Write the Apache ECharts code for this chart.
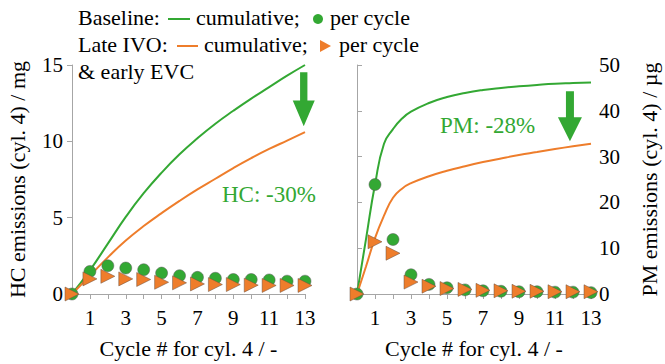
<!DOCTYPE html>
<html>
<head>
<meta charset="utf-8">
<script src="https://cdn.jsdelivr.net/npm/echarts@6/dist/echarts.min.js"></script>
<style>
html,body{margin:0;padding:0;background:#fff;}
#chart{width:665px;height:364px;}
</style>
</head>
<body>
<div id="chart"></div>
<script>
// ---- data ----
const cycles = [0,1,2,3,4,5,6,7,8,9,10,11,12,13];
const xTickLabels = ['1','3','5','7','9','11','13'];
const hcBaseCum   = [0, 1.55, 3.3, 5.05, 6.6, 7.95, 9.15, 10.2, 11.15, 12.0, 12.8, 13.55, 14.3, 15.0];
const hcLateCum   = [0, 1.2, 2.4, 3.5, 4.45, 5.3, 6.1, 6.85, 7.55, 8.25, 8.9, 9.5, 10.05, 10.6];
const hcBaseCycle = [0, 1.48, 1.85, 1.7, 1.59, 1.37, 1.2, 1.09, 1.03, 0.95, 0.95, 0.92, 0.84, 0.84];
const hcLateCycle = [0, 0.99, 1.16, 0.99, 0.95, 0.77, 0.73, 0.66, 0.62, 0.62, 0.58, 0.56, 0.56, 0.56];
const pmCumCycles = [0, 0.5, 1, 1.5, 2, 2.5, 3, 4, 5, 6, 7, 8, 9, 10, 11, 12, 13];
const pmBaseCum   = [0, 12, 23.9, 32.8, 36.0, 38.3, 39.8, 41.7, 43.0, 43.9, 44.55, 45.0, 45.35, 45.65, 45.9, 46.05, 46.2];
const pmLateCum   = [0, 6, 12.2, 17.1, 21.0, 23.0, 24.2, 25.7, 26.9, 27.9, 28.8, 29.6, 30.35, 31.0, 31.65, 32.25, 32.8];
const pmBaseCycle = [0, 23.9, 11.9, 4.2, 2.1, 1.36, 0.9, 0.7, 0.6, 0.5, 0.5, 0.4, 0.4, 0.3];
const pmLateCycle = [0, 11.4, 8.9, 2.6, 1.7, 1.2, 1.0, 0.8, 0.7, 0.6, 0.6, 0.5, 0.5, 0.5];
const hcArrow = [12.93, 12.75];
const pmArrow = [11.83, 38.8];

// ---- style ----
const GREEN = '#33a833';
const ORANGE = '#ee7d2b';
const FONT = 'Liberation Serif';
const AXIS_GRAY = '#a6a6a6';

const pairs = (xs, ys) => xs.map((x, i) => [x, ys[i]]);

const xAxisCommon = {
  type: 'value', min: 0, max: 13, interval: 1,
  axisLine: {lineStyle: {color: AXIS_GRAY, width: 1}},
  axisTick: {show: true, length: 5, lineStyle: {color: AXIS_GRAY}},
  splitLine: {show: false},
  axisLabel: {
    fontFamily: FONT, fontSize: 21, color: '#000', margin: 13,
    formatter: v => xTickLabels.includes(String(v)) ? String(v) : ''
  },
  name: 'Cycle # for cyl. 4 / -', nameLocation: 'middle', nameGap: 43,
  nameTextStyle: {fontFamily: FONT, fontSize: 22, color: '#000'}
};

const arrowPath = 'path://M8,0 L16,0 L16,26 L24,26 L12,50 L0,26 L8,26 Z';

const option = {
  animation: false,
  backgroundColor: '#fff',
  grid: [
    {left: 72, right: 360, top: 65, bottom: 66},
    {left: 357, right: 74, top: 65, bottom: 66}
  ],
  xAxis: [
    Object.assign({gridIndex: 0}, xAxisCommon),
    Object.assign({gridIndex: 1}, xAxisCommon)
  ],
  yAxis: [
    {
      gridIndex: 0, type: 'value', min: 0, max: 15, interval: 5, position: 'left',
      axisLine: {show: true, lineStyle: {color: AXIS_GRAY}},
      axisTick: {show: true, length: 5, lineStyle: {color: AXIS_GRAY}},
      splitLine: {show: false},
      axisLabel: {fontFamily: FONT, fontSize: 21, color: '#000', margin: 9},
      name: 'HC emissions (cyl. 4) / mg', nameLocation: 'middle', nameGap: 44, nameRotate: 90,
      nameTextStyle: {fontFamily: FONT, fontSize: 22, color: '#000'}
    },
    {
      gridIndex: 1, type: 'value', min: 0, max: 50, interval: 10, position: 'right',
      axisLine: {show: true, lineStyle: {color: AXIS_GRAY}},
      axisTick: {show: true, length: 5, lineStyle: {color: AXIS_GRAY}},
      splitLine: {show: false},
      axisLabel: {fontFamily: FONT, fontSize: 21, color: '#000', margin: 8},
      name: 'PM emissions (cyl. 4) / µg', nameLocation: 'middle', nameGap: 47, nameRotate: 90,
      nameTextStyle: {fontFamily: FONT, fontSize: 22, color: '#000'}
    }
  ],
  series: [
    {type: 'line', xAxisIndex: 0, yAxisIndex: 0, data: pairs(cycles, hcBaseCum), smooth: 0.5,
     showSymbol: false, lineStyle: {color: GREEN, width: 2}, z: 2},
    {type: 'line', xAxisIndex: 0, yAxisIndex: 0, data: pairs(cycles, hcLateCum), smooth: 0.5,
     showSymbol: false, lineStyle: {color: ORANGE, width: 2}, z: 2},
    {type: 'scatter', xAxisIndex: 0, yAxisIndex: 0, data: pairs(cycles, hcBaseCycle), symbol: 'circle', symbolSize: 12,
     itemStyle: {color: GREEN, borderColor: '#5a5a5a', borderWidth: 0.5, opacity: 1}, z: 3},
    {type: 'scatter', xAxisIndex: 0, yAxisIndex: 0, data: pairs(cycles, hcLateCycle), symbol: 'triangle', symbolRotate: -90, symbolSize: 14,
     itemStyle: {color: ORANGE, borderColor: '#6a5040', borderWidth: 0.5, opacity: 1}, z: 4},
    {type: 'scatter', xAxisIndex: 0, yAxisIndex: 0, data: [hcArrow], symbol: arrowPath, symbolSize: [22, 54], symbolKeepAspect: false,
     itemStyle: {color: GREEN, opacity: 1}, silent: true, z: 5},

    {type: 'line', xAxisIndex: 1, yAxisIndex: 1, data: pairs(pmCumCycles, pmBaseCum), smooth: 0.5,
     showSymbol: false, lineStyle: {color: GREEN, width: 2}, z: 2},
    {type: 'line', xAxisIndex: 1, yAxisIndex: 1, data: pairs(pmCumCycles, pmLateCum), smooth: 0.5,
     showSymbol: false, lineStyle: {color: ORANGE, width: 2}, z: 2},
    {type: 'scatter', xAxisIndex: 1, yAxisIndex: 1, data: pairs(cycles, pmBaseCycle), symbol: 'circle', symbolSize: 12,
     itemStyle: {color: GREEN, borderColor: '#5a5a5a', borderWidth: 0.5, opacity: 1}, z: 3},
    {type: 'scatter', xAxisIndex: 1, yAxisIndex: 1, data: pairs(cycles, pmLateCycle), symbol: 'triangle', symbolRotate: -90, symbolSize: 14,
     itemStyle: {color: ORANGE, borderColor: '#6a5040', borderWidth: 0.5, opacity: 1}, z: 4},
    {type: 'scatter', xAxisIndex: 1, yAxisIndex: 1, data: [pmArrow], symbol: arrowPath, symbolSize: [24, 50], symbolKeepAspect: false,
     itemStyle: {color: GREEN, opacity: 1}, silent: true, z: 5}
  ],
  graphic: [
    // legend line 1
    {type: 'text', left: 78, top: 6, style: {text: 'Baseline:', font: '22px "Liberation Serif"', fill: '#000'}},
    {type: 'line', shape: {x1: 168, y1: 19, x2: 190, y2: 19}, style: {stroke: GREEN, lineWidth: 2}},
    {type: 'text', left: 196, top: 6, style: {text: 'cumulative;', font: '22px "Liberation Serif"', fill: '#000'}},
    {type: 'circle', shape: {cx: 318, cy: 19, r: 5}, style: {fill: GREEN}},
    {type: 'text', left: 330, top: 6, style: {text: 'per cycle', font: '22px "Liberation Serif"', fill: '#000'}},
    // legend line 2
    {type: 'text', left: 78, top: 33, style: {text: 'Late IVO:', font: '22px "Liberation Serif"', fill: '#000'}},
    {type: 'line', shape: {x1: 177, y1: 46, x2: 198, y2: 46}, style: {stroke: ORANGE, lineWidth: 2}},
    {type: 'text', left: 204, top: 33, style: {text: 'cumulative;', font: '22px "Liberation Serif"', fill: '#000'}},
    {type: 'polygon', shape: {points: [[320, 40], [331, 46], [320, 52]]}, style: {fill: ORANGE}},
    {type: 'text', left: 339, top: 33, style: {text: 'per cycle', font: '22px "Liberation Serif"', fill: '#000'}},
    // legend line 3
    {type: 'text', left: 78, top: 60, style: {text: '& early EVC', font: '22px "Liberation Serif"', fill: '#000'}},
    // annotations
    {type: 'text', left: 222, top: 183, style: {text: 'HC: -30%', font: '23px "Liberation Serif"', fill: GREEN}},
    {type: 'text', left: 440, top: 114, style: {text: 'PM: -28%', font: '23px "Liberation Serif"', fill: GREEN}}
  ]
};

const chart = echarts.init(document.getElementById('chart'), null, {renderer: 'svg'});
chart.setOption(option);
</script>
</body>
</html>
